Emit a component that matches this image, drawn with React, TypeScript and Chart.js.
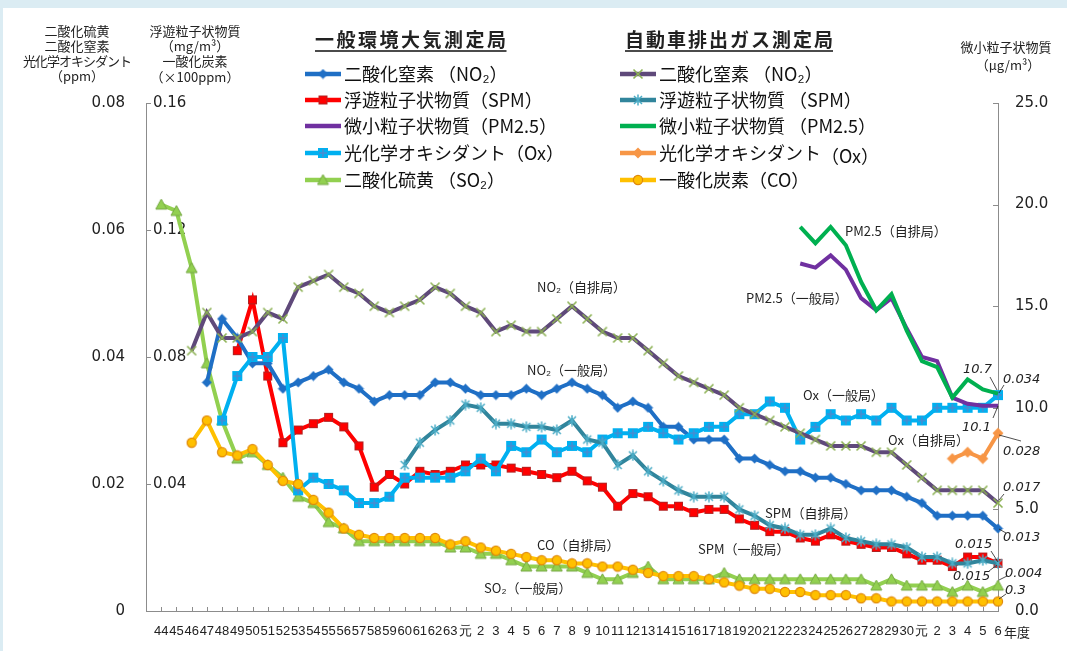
import React, { useEffect, useRef } from 'react';
import { Chart, registerables } from 'chart.js';

Chart.register(...registerables);

// 年度 (S44 ... S63, H元 ... H30, R元 ... R6)
const YEARS = [
  '44', '45', '46', '47', '48', '49', '50', '51', '52', '53', '54', '55', '56', '57', '58', '59', '60', '61', '62', '63',
  '元', '2', '3', '4', '5', '6', '7', '8', '9', '10', '11', '12', '13', '14', '15', '16', '17', '18', '19', '20',
  '21', '22', '23', '24', '25', '26', '27', '28', '29', '30',
  '元', '2', '3', '4', '5', '6',
];

// 一般環境大気測定局
const NO2_GEN = [null, null, null, 0.036, 0.046, 0.043, 0.039, 0.039, 0.035, 0.036, 0.037, 0.038, 0.036, 0.035, 0.033, 0.034, 0.034, 0.034, 0.036, 0.036,
  0.035, 0.034, 0.034, 0.034, 0.035, 0.034, 0.035, 0.036, 0.035, 0.034, 0.032, 0.033, 0.032, 0.029, 0.029, 0.027, 0.027, 0.027, 0.024, 0.024,
  0.023, 0.022, 0.022, 0.021, 0.021, 0.020, 0.019, 0.019, 0.019, 0.018, 0.017, 0.015, 0.015, 0.015, 0.015, 0.013];
const SPM_GEN = [null, null, null, null, null, 0.082, 0.098, 0.074, 0.053, 0.057, 0.059, 0.061, 0.058, 0.052, 0.039, 0.043, 0.040, 0.044, 0.043, 0.044,
  0.046, 0.046, 0.046, 0.045, 0.044, 0.043, 0.042, 0.044, 0.041, 0.039, 0.033, 0.037, 0.036, 0.033, 0.033, 0.031, 0.032, 0.032, 0.029, 0.027,
  0.025, 0.025, 0.023, 0.022, 0.024, 0.022, 0.021, 0.020, 0.020, 0.018, 0.016, 0.016, 0.014, 0.017, 0.017, 0.015];
const PM25_GEN = [null, null, null, null, null, null, null, null, null, null, null, null, null, null, null, null, null, null, null, null,
  null, null, null, null, null, null, null, null, null, null, null, null, null, null, null, null, null, null, null, null,
  null, null, 17.1, 16.9, 17.5, 16.8, 15.4, 14.8, 15.4, 13.9, 12.5, 12.3, 10.5, 10.2, 10.1, 10.1];
const OX_GEN = [null, null, null, null, 0.030, 0.037, 0.040, 0.040, 0.043, 0.019, 0.021, 0.020, 0.019, 0.017, 0.017, 0.018, 0.021, 0.021, 0.021, 0.021,
  0.022, 0.024, 0.022, 0.026, 0.025, 0.027, 0.025, 0.026, 0.025, 0.027, 0.028, 0.028, 0.029, 0.028, 0.027, 0.028, 0.029, 0.029, 0.031, 0.031,
  0.033, 0.032, 0.027, 0.029, 0.031, 0.030, 0.031, 0.030, 0.032, 0.030, 0.030, 0.032, 0.032, 0.032, 0.032, 0.034];
const SO2_GEN = [0.064, 0.063, 0.054, 0.039, 0.030, 0.024, 0.025, 0.023, 0.021, 0.018, 0.017, 0.014, 0.013, 0.011, 0.011, 0.011, 0.011, 0.011, 0.011, 0.010,
  0.010, 0.009, 0.009, 0.008, 0.007, 0.007, 0.007, 0.007, 0.006, 0.005, 0.005, 0.006, 0.007, 0.005, 0.005, 0.005, 0.005, 0.006, 0.005, 0.005,
  0.005, 0.005, 0.005, 0.005, 0.005, 0.005, 0.005, 0.004, 0.005, 0.004, 0.004, 0.004, 0.003, 0.004, 0.003, 0.004];

// 自動車排出ガス測定局
const NO2_AUTO = [null, null, 0.041, 0.047, 0.043, 0.043, 0.044, 0.047, 0.046, 0.051, 0.052, 0.053, 0.051, 0.050, 0.048, 0.047, 0.048, 0.049, 0.051, 0.050,
  0.048, 0.047, 0.044, 0.045, 0.044, 0.044, 0.046, 0.048, 0.046, 0.044, 0.043, 0.043, 0.041, 0.039, 0.037, 0.036, 0.035, 0.034, 0.032, 0.031,
  0.030, 0.029, 0.028, 0.027, 0.026, 0.026, 0.026, 0.025, 0.025, 0.023, 0.021, 0.019, 0.019, 0.019, 0.019, 0.017];
const SPM_AUTO = [null, null, null, null, null, null, null, null, null, null, null, null, null, null, null, null, 0.046, 0.053, 0.057, 0.060,
  0.065, 0.064, 0.059, 0.059, 0.058, 0.058, 0.057, 0.060, 0.054, 0.053, 0.046, 0.049, 0.044, 0.041, 0.038, 0.036, 0.036, 0.036, 0.032, 0.030,
  0.027, 0.026, 0.024, 0.024, 0.026, 0.023, 0.022, 0.021, 0.021, 0.020, 0.017, 0.017, 0.015, 0.015, 0.016, 0.015];
const PM25_AUTO = [null, null, null, null, null, null, null, null, null, null, null, null, null, null, null, null, null, null, null, null,
  null, null, null, null, null, null, null, null, null, null, null, null, null, null, null, null, null, null, null, null,
  null, null, 18.9, 18.1, 18.9, 18.0, 16.2, 14.8, 15.6, 13.8, 12.3, 12.0, 10.5, 11.4, 10.9, 10.7];
const OX_AUTO = [null, null, null, null, null, null, null, null, null, null, null, null, null, null, null, null, null, null, null, null,
  null, null, null, null, null, null, null, null, null, null, null, null, null, null, null, null, null, null, null, null,
  null, null, null, null, null, null, null, null, null, null, null, null, 0.024, 0.025, 0.024, 0.028];
// CO in ppm (plotted on the ×100ppm axis)
const CO_AUTO = [null, null, 5.3, 6.0, 5.0, 4.9, 5.1, 4.6, 4.1, 4.0, 3.5, 3.1, 2.6, 2.4, 2.3, 2.3, 2.3, 2.3, 2.3, 2.1,
  2.2, 2.0, 1.9, 1.8, 1.7, 1.6, 1.6, 1.5, 1.5, 1.4, 1.4, 1.3, 1.2, 1.1, 1.1, 1.1, 1.0, 0.9, 0.8, 0.7,
  0.7, 0.6, 0.6, 0.5, 0.5, 0.5, 0.4, 0.4, 0.3, 0.3, 0.3, 0.3, 0.3, 0.3, 0.3, 0.3];

const JP = '"Noto Sans CJK JP", sans-serif';
const NUM = '"DejaVu Sans", sans-serif';

type Markers = Record<string, HTMLCanvasElement>;
let markerCache: Markers | null = null;

function mk(size: number, draw: (c: CanvasRenderingContext2D, s: number) => void) {
  const cv = document.createElement('canvas');
  cv.width = size;
  cv.height = size;
  const c = cv.getContext('2d') as CanvasRenderingContext2D;
  draw(c, size);
  return cv;
}

function getMarkers(): Markers {
  if (markerCache) return markerCache;
  markerCache = {
    diamondBlue: mk(11, (c, s) => {
      c.fillStyle = '#1F6FC5';
      c.beginPath(); c.moveTo(s / 2, 0.5); c.lineTo(s - 0.5, s / 2); c.lineTo(s / 2, s - 0.5); c.lineTo(0.5, s / 2); c.closePath(); c.fill();
    }),
    squareRed: mk(11, (c) => {
      c.fillStyle = '#FF0000'; c.fillRect(1, 1, 9, 9);
      c.strokeStyle = '#B22222'; c.lineWidth = 1; c.strokeRect(1.5, 1.5, 8, 8);
    }),
    squareCross: mk(12, (c) => {
      c.fillStyle = '#00B0F0'; c.fillRect(1, 1, 10, 10);
      c.strokeStyle = '#4A8BD0'; c.lineWidth = 1.5;
      c.beginPath(); c.moveTo(6, 2); c.lineTo(6, 10); c.moveTo(2, 6); c.lineTo(10, 6); c.stroke();
    }),
    triGreen: mk(13, (c, s) => {
      c.fillStyle = '#92D050'; c.strokeStyle = '#76A844'; c.lineWidth = 1;
      c.beginPath(); c.moveTo(s / 2, 1); c.lineTo(s - 1, s - 2); c.lineTo(1, s - 2); c.closePath(); c.fill(); c.stroke();
    }),
    xGreen: mk(12, (c, s) => {
      c.strokeStyle = '#8DB255'; c.lineWidth = 1.6;
      c.beginPath(); c.moveTo(1.5, 1.5); c.lineTo(s - 1.5, s - 1.5); c.moveTo(s - 1.5, 1.5); c.lineTo(1.5, s - 1.5); c.stroke();
    }),
    starTeal: mk(12, (c, s) => {
      c.strokeStyle = '#4BACC6'; c.lineWidth = 1.5;
      c.beginPath(); c.moveTo(2, 2); c.lineTo(s - 2, s - 2); c.moveTo(s - 2, 2); c.lineTo(2, s - 2);
      c.moveTo(s / 2, 0.5); c.lineTo(s / 2, s - 0.5); c.stroke();
    }),
    diamondOrange: mk(12, (c, s) => {
      c.fillStyle = '#F79646';
      c.beginPath(); c.moveTo(s / 2, 0.5); c.lineTo(s - 0.5, s / 2); c.lineTo(s / 2, s - 0.5); c.lineTo(0.5, s / 2); c.closePath(); c.fill();
    }),
    circleGold: mk(12, (c, s) => {
      c.fillStyle = '#FFC000'; c.strokeStyle = '#E0890A'; c.lineWidth = 1.2;
      c.beginPath(); c.arc(s / 2, s / 2, 4.6, 0, Math.PI * 2); c.fill(); c.stroke();
    }),
  };
  return markerCache;
}

const pad = (arr: (number | null)[]) => [null, ...arr];

function legendRow(ctx: CanvasRenderingContext2D, x: number, y: number, color: string, marker: HTMLCanvasElement | null, text: string, extra?: string) {
  ctx.strokeStyle = color;
  ctx.lineWidth = 4.5;
  ctx.beginPath(); ctx.moveTo(x, y); ctx.lineTo(x + 36, y); ctx.stroke();
  if (marker) ctx.drawImage(marker, x + 18 - marker.width / 2, y - marker.height / 2);
  ctx.fillStyle = '#111';
  ctx.font = `18px ${JP}`;
  ctx.textAlign = 'left';
  ctx.textBaseline = 'middle';
  ctx.fillText(text, x + 39, y);
  if (extra) {
    const w = ctx.measureText(text).width;
    ctx.fillText(extra, x + 39 + w, y + 3);
  }
}

const overlay = {
  id: 'overlay',
  beforeDatasetsDraw(chart: any) {
    const ctx: CanvasRenderingContext2D = chart.ctx;
    const { left, right, bottom } = chart.chartArea;
    const xs = chart.scales.x, ys = chart.scales.y, yr = chart.scales.y3;
    ctx.save();
    ctx.strokeStyle = '#8c8c8c';
    ctx.lineWidth = 1;
    ctx.beginPath();
    xs.ticks.forEach((_t: any, i: number) => {
      const px = Math.round(xs.getPixelForTick(i)) + 0.5;
      ctx.moveTo(px, bottom); ctx.lineTo(px, bottom - 4);
    });
    ys.ticks.forEach((t: any) => {
      const py = Math.round(ys.getPixelForValue(t.value)) + 0.5;
      ctx.moveTo(left, py); ctx.lineTo(left + 5, py);
    });
    yr.ticks.forEach((t: any) => {
      const py = Math.round(yr.getPixelForValue(t.value)) + 0.5;
      ctx.moveTo(right, py); ctx.lineTo(right - 5, py);
    });
    ctx.stroke();
    ctx.restore();
  },
  afterDraw(chart: any) {
    const ctx: CanvasRenderingContext2D = chart.ctx;
    const m = getMarkers();
    ctx.save();
    ctx.fillStyle = '#222';
    ctx.textBaseline = 'middle';
    ctx.textAlign = 'center';
    // axis titles
    ctx.font = `13px ${JP}`;
    ctx.fillText('二酸化硫黄', 77, 31);
    ctx.fillText('二酸化窒素', 77, 46);
    (ctx as any).letterSpacing = '-1px';
    ctx.fillText('光化学オキシダント', 77, 61);
    (ctx as any).letterSpacing = '0px';
    ctx.fillText('（ppm）', 77, 76);
    ctx.fillText('浮遊粒子状物質', 195, 31);
    ctx.fillText('（mg/m³）', 195, 46);
    ctx.fillText('一酸化炭素', 195, 61);
    ctx.fillText('（×100ppm）', 195, 77);
    ctx.fillText('微小粒子状物質', 1006, 47);
    ctx.fillText('（μg/m³）', 1008, 65);

    // legend headers
    ctx.textAlign = 'left';
    ctx.font = `bold 19px ${JP}`;
    (ctx as any).letterSpacing = '2.5px';
    ctx.fillText('一般環境大気測定局', 315, 40);
    const w1 = ctx.measureText('一般環境大気測定局').width;
    (ctx as any).letterSpacing = '2px';
    ctx.fillText('自動車排出ガス測定局', 625, 40);
    const w2 = ctx.measureText('自動車排出ガス測定局').width;
    (ctx as any).letterSpacing = '0px';
    ctx.strokeStyle = '#111';
    ctx.lineWidth = 1.5;
    ctx.beginPath();
    ctx.moveTo(315, 51); ctx.lineTo(315 + w1 - 2, 51);
    ctx.moveTo(625, 51); ctx.lineTo(625 + w2 - 2, 51);
    ctx.stroke();

    // legend rows
    const L = 305, R = 620;
    const rows = [74, 100, 126, 153, 180];
    legendRow(ctx, L, rows[0], '#1F6FC5', m.diamondBlue, '二酸化窒素 （NO₂）');
    legendRow(ctx, L, rows[1], '#FF0000', m.squareRed, '浮遊粒子状物質（SPM）');
    legendRow(ctx, L, rows[2], '#7030A0', null, '微小粒子状物質（PM2.5）');
    legendRow(ctx, L, rows[3], '#00B0F0', m.squareCross, '光化学オキシダント（Ox）');
    legendRow(ctx, L, rows[4], '#92D050', m.triGreen, '二酸化硫黄 （SO₂）');
    legendRow(ctx, R, rows[0], '#5F497A', m.xGreen, '二酸化窒素 （NO₂）');
    legendRow(ctx, R, rows[1], '#31859C', m.starTeal, '浮遊粒子状物質 （SPM）');
    legendRow(ctx, R, rows[2], '#00B050', null, '微小粒子状物質 （PM2.5）');
    legendRow(ctx, R, rows[3], '#F79646', m.diamondOrange, '光化学オキシダント', '（Ox）');
    legendRow(ctx, R, rows[4], '#FFC000', m.circleGold, '一酸化炭素（CO）');

    // series labels in the plot
    ctx.fillStyle = '#222';
    ctx.font = `13px ${JP}`;
    ctx.textAlign = 'left';
    const labels: [string, number, number][] = [
      ['NO₂（自排局）', 537, 287],
      ['NO₂（一般局）', 527, 370],
      ['PM2.5（自排局）', 845, 231],
      ['PM2.5（一般局）', 746, 298],
      ['Ox（一般局）', 803, 395],
      ['Ox（自排局）', 888, 440],
      ['SPM（自排局）', 765, 513],
      ['SPM（一般局）', 698, 549],
      ['CO（自排局）', 537, 545],
      ['SO₂（一般局）', 484, 588],
    ];
    labels.forEach(([t, x, y]) => ctx.fillText(t, x, y));

    // end values
    ctx.font = `italic 13px ${NUM}`;
    const vals: [string, number, number][] = [
      ['10.7', 963, 370], ['0.034', 1003, 380], ['10.1', 962, 428], ['0.028', 1003, 452],
      ['0.017', 1003, 488], ['0.013', 1003, 538], ['0.015', 955, 545], ['0.015', 953, 577],
      ['0.004', 1005, 574], ['0.3', 1005, 591],
    ];
    vals.forEach(([t, x, y]) => ctx.fillText(t, x, y));
    ctx.strokeStyle = '#222';
    ctx.lineWidth = 0.8;
    ctx.beginPath();
    const leaders = [
      [990, 377, 997, 390], [1004, 385, 999, 393], [993, 418, 998, 406], [999, 435, 1021, 441],
      [1004, 494, 999, 500], [999, 529, 1006, 533], [991, 551, 998, 562], [989, 571, 997, 565],
      [999, 580, 1007, 576], [999, 599, 1006, 594],
    ];
    leaders.forEach(([a, b, c, d]) => { ctx.moveTo(a, b); ctx.lineTo(c, d); });
    ctx.stroke();

    // 年度
    ctx.fillStyle = '#222';
    ctx.font = `13px ${JP}`;
    ctx.textAlign = 'left';
    ctx.fillText('年度', 1004, 632);
    ctx.restore();
  },
};

export default function App() {
  const ref = useRef<HTMLCanvasElement | null>(null);
  useEffect(() => {
    if (!ref.current) return;
    const m = getMarkers();
    const line = (label: string, data: (number | null)[], color: string, marker: HTMLCanvasElement | null, yAxisID = 'y') => ({
      label,
      data: pad(data),
      borderColor: color,
      backgroundColor: color,
      borderWidth: 4,
      tension: 0,
      pointStyle: marker || 'circle',
      pointRadius: marker ? 5 : 0,
      pointHoverRadius: marker ? 5 : 0,
      yAxisID,
      clip: false as any,
      spanGaps: false,
    });
    const datasets = [
      line('一酸化炭素（CO）自排局', CO_AUTO.map((v) => (v === null ? null : v / 100)), '#FFC000', m.circleGold, 'y2'),
      line('光化学オキシダント（Ox）自排局', OX_AUTO, '#F79646', m.diamondOrange),
      line('浮遊粒子状物質（SPM）自排局', SPM_AUTO, '#31859C', m.starTeal, 'y2'),
      line('二酸化窒素（NO2）自排局', NO2_AUTO, '#5F497A', m.xGreen),
      line('微小粒子状物質（PM2.5）自排局', PM25_AUTO, '#00B050', null, 'y3'),
      line('微小粒子状物質（PM2.5）一般局', PM25_GEN, '#7030A0', null, 'y3'),
      line('光化学オキシダント（Ox）一般局', OX_GEN, '#00B0F0', m.squareCross),
      line('二酸化窒素（NO2）一般局', NO2_GEN, '#1F6FC5', m.diamondBlue),
      line('浮遊粒子状物質（SPM）一般局', SPM_GEN, '#FF0000', m.squareRed, 'y2'),
      line('二酸化硫黄（SO2）一般局', SO2_GEN, '#92D050', m.triGreen),
    ];
    const tickColor = '#222';
    const chart = new Chart(ref.current, {
      type: 'line',
      data: { labels: ['', ...YEARS], datasets: datasets as any },
      options: {
        responsive: false,
        animation: false,
        events: [],
        layout: { padding: { top: 103, left: 0, right: 0, bottom: 0 } },
        plugins: { legend: { display: false }, tooltip: { enabled: false } },
        scales: {
          x: {
            type: 'category',
            offset: false,
            grid: { display: false, drawTicks: false },
            border: { color: '#8c8c8c', width: 1 },
            ticks: { autoSkip: false, maxRotation: 0, minRotation: 0, padding: 13, color: tickColor, font: { family: '"Liberation Sans", sans-serif', size: 13 } },
            afterFit: (s: any) => { s.height = 40; },
          } as any,
          y: {
            position: 'left',
            weight: 2,
            min: 0,
            max: 0.08,
            grid: { display: false, drawTicks: false },
            border: { color: '#8c8c8c', width: 1 },
            ticks: { stepSize: 0.02, padding: 21, color: tickColor, font: { family: NUM, size: 15 }, callback: (v: any) => (Number(v) === 0 ? '0' : Number(v).toFixed(2)) },
            afterFit: (s: any) => { s.width = 146; },
          } as any,
          y2: {
            position: 'left',
            weight: 1,
            min: 0,
            max: 0.16,
            grid: { display: false, drawTicks: false },
            border: { display: false },
            ticks: { stepSize: 0.04, mirror: true, padding: 7, color: tickColor, font: { family: NUM, size: 15 }, callback: (v: any) => (Number(v) === 0 ? '' : Number(v).toFixed(2)) },
            afterFit: (s: any) => { s.width = 0; },
          } as any,
          y3: {
            position: 'right',
            min: 0,
            max: 25,
            grid: { display: false, drawTicks: false },
            border: { color: '#8c8c8c', width: 1 },
            ticks: { stepSize: 5, padding: 17, color: tickColor, font: { family: NUM, size: 15 }, callback: (v: any) => Number(v).toFixed(1) },
            afterFit: (s: any) => { s.width = 69; },
          } as any,
        },
      },
      plugins: [overlay as any],
    });
    return () => chart.destroy();
  }, []);

  return (
    <div style={{ position: 'absolute', left: 0, top: 0, width: 1067, height: 651, background: '#dbecf3', overflow: 'hidden' }}>
      <div style={{ position: 'absolute', left: 3, top: 8, right: 0, bottom: 0, background: '#ffffff' }} />
      <canvas ref={ref} width={1067} height={651} style={{ position: 'absolute', left: 0, top: 0, display: 'block' }} />
    </div>
  );
}
